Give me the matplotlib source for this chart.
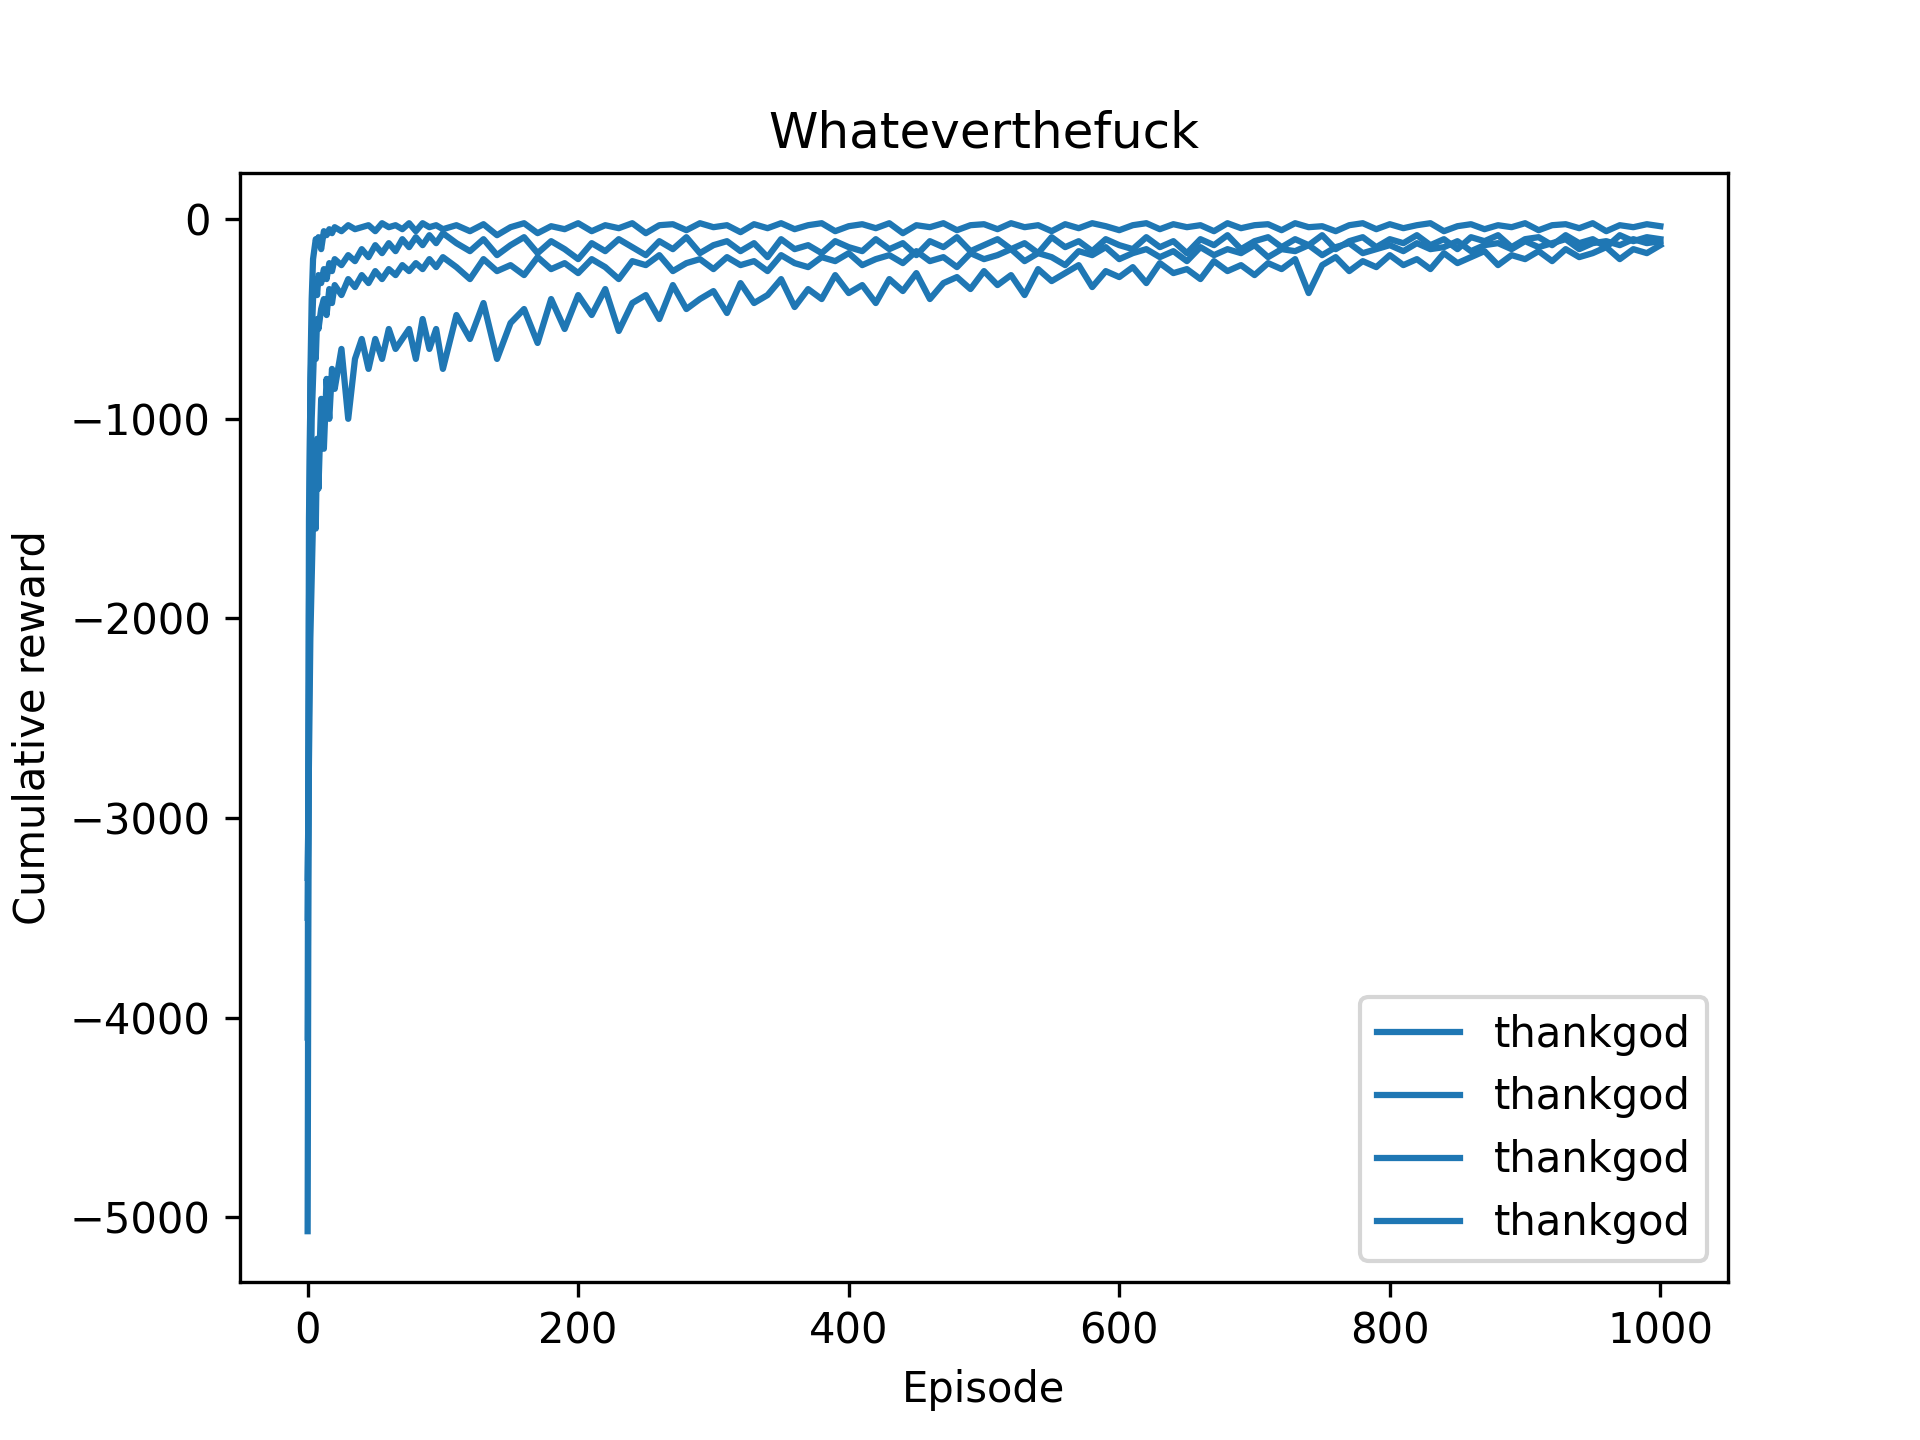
import matplotlib
matplotlib.use("Agg")
import matplotlib.pyplot as plt

episodes = [0,1,2,3,4,5,6,7,8,10,12,14,16,18,20,25,30,35,40,45,50,55,60,65,70,75,80,85,90,95,100] + list(range(110, 1001, 10))

s1 = [-5070,-2000,-800,-400,-200,-150,-100,-120,-90,-150,-60,-80,-50,-70,-40,-60,-30,-50,-40,-30,-60,-20,-40,-30,-50,-20,-60,-20,-40,-30,-50,
 -30,-60,-25,-80,-40,-20,-70,-35,-50,-20,
 -60,-30,-45,-20,-70,-30,-25,-55,-20,-40,
 -30,-65,-25,-45,-20,-50,-30,-20,-60,-35,
 -25,-45,-20,-70,-30,-40,-20,-55,-30,-25,
 -50,-20,-40,-30,-60,-25,-45,-20,-35,-55,
 -30,-20,-50,-25,-40,-30,-60,-20,-45,-30,
 -25,-55,-20,-40,-35,-60,-30,-20,-50,-25,
 -45,-30,-20,-60,-35,-25,-50,-30,-40,-20,
 -55,-30,-25,-45,-20,-60,-30,-40,-25,-35]

s2 = [-4100,-1500,-900,-600,-400,-350,-300,-380,-280,-320,-250,-300,-220,-260,-200,-230,-180,-210,-150,-190,-130,-170,-120,-160,-100,-140,-90,-130,-80,-120,-70,
 -120,-160,-100,-180,-130,-90,-170,-110,-150,-200,
 -120,-160,-100,-140,-180,-110,-150,-90,-170,-130,
 -110,-160,-120,-190,-100,-150,-130,-170,-110,-140,
 -160,-100,-150,-120,-180,-110,-140,-90,-160,-130,
 -100,-150,-120,-170,-90,-140,-110,-160,-100,-130,
 -150,-90,-140,-110,-170,-100,-130,-80,-150,-110,
 -90,-140,-100,-130,-80,-150,-110,-90,-140,-100,
 -120,-80,-130,-100,-150,-90,-110,-80,-140,-100,
 -90,-130,-80,-120,-100,-140,-80,-110,-90,-100]

s3 = [-3500,-2400,-1500,-1000,-800,-600,-700,-500,-550,-450,-400,-480,-350,-420,-330,-380,-300,-340,-280,-320,-260,-300,-250,-280,-230,-260,-220,-250,-200,-240,-190,
 -240,-300,-200,-260,-230,-280,-190,-250,-220,-270,
 -200,-240,-300,-210,-230,-180,-260,-220,-200,-250,
 -190,-230,-210,-260,-180,-220,-240,-190,-210,-170,
 -230,-200,-180,-220,-160,-210,-190,-240,-170,-200,
 -180,-150,-210,-170,-190,-230,-160,-180,-140,-200,
 -170,-150,-190,-160,-210,-140,-180,-150,-170,-130,
 -190,-150,-160,-130,-180,-140,-120,-170,-150,-130,
 -160,-120,-150,-140,-110,-160,-130,-120,-150,-110,
 -140,-120,-100,-150,-120,-110,-130,-100,-120,-110]

s4 = [-3300,-2700,-2100,-1800,-1500,-1300,-1550,-1100,-1350,-900,-1150,-800,-1000,-750,-850,-650,-1000,-700,-600,-750,-600,-700,-550,-650,-600,-550,-700,-500,-650,-550,-750,
 -480,-600,-420,-700,-520,-450,-620,-400,-550,-380,
 -480,-350,-560,-420,-380,-500,-330,-450,-400,-360,
 -470,-320,-420,-380,-300,-440,-350,-400,-280,-370,
 -330,-420,-300,-360,-270,-400,-320,-290,-350,-260,
 -330,-280,-380,-250,-310,-270,-230,-340,-260,-290,
 -240,-320,-220,-270,-250,-300,-210,-260,-230,-280,
 -220,-250,-200,-370,-230,-190,-260,-210,-240,-180,
 -230,-200,-250,-170,-220,-190,-160,-230,-180,-200,
 -160,-210,-150,-190,-170,-140,-200,-150,-170,-130]

labels = ["thankgod"] * 4

fig, ax = plt.subplots(figsize=(6.4, 4.8), dpi=300)
for s, lab in zip([s1, s2, s3, s4], labels):
    ax.plot(episodes, s, color="#1f77b4", label=lab)
ax.set_title("Whateverthefuck")
ax.set_xlabel("Episode")
ax.set_ylabel("Cumulative reward")
ax.legend(loc="lower right")
fig.savefig("out.png")
